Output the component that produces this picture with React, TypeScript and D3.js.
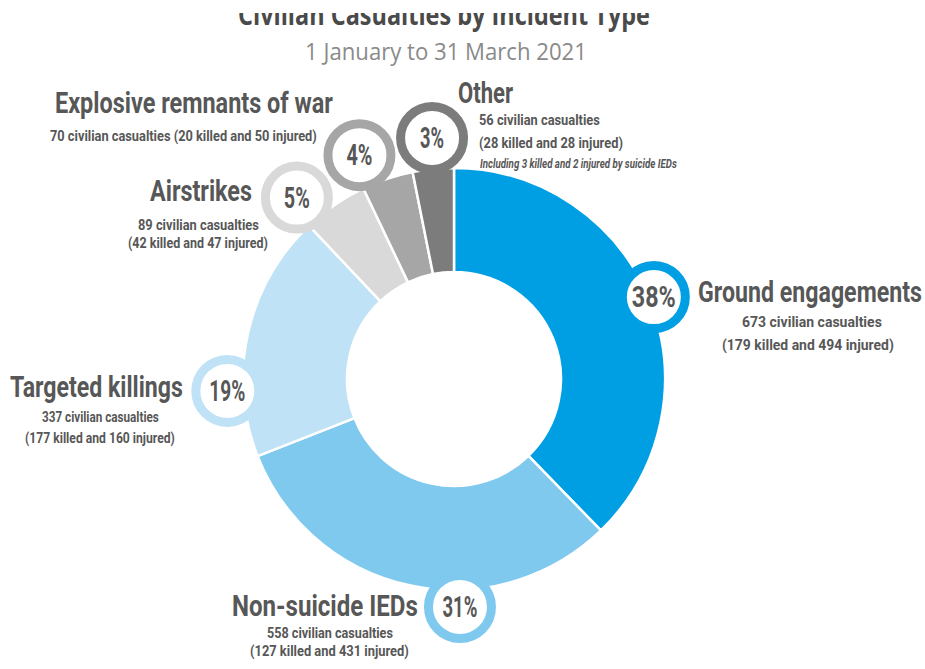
import React, { useLayoutEffect, useRef, useState } from "react";
import * as d3 from "d3";

// ---- data ----
const titleText = "Civilian Casualties by Incident Type";
const subtitleText = "1 January to 31 March 2021";
const categories = [
  "Ground engagements",
  "Non-suicide IEDs",
  "Targeted killings",
  "Airstrikes",
  "Explosive remnants of war",
  "Other",
];
const casualties = [673, 558, 337, 89, 70, 56];
const killed = [179, 127, 177, 42, 20, 28];
const injured = [494, 431, 160, 47, 50, 28];
const notes = ["", "", "", "", "", "Including 3 killed and 2 injured by suicide IEDs"];

// ---- styles / layout ----
const colors = ["#009fe3", "#7fc9ee", "#bfe2f6", "#d9d9d9", "#a6a6a6", "#7c7c7c"];
const W = 925;
const H = 669;
const CX = 454;
const CY = 379;
const R_OUT = 211;
const R_IN = 107;
const TEXT = "#575757";

// badge placement: angle (deg clockwise from top), distance from centre
const badgeLayout = [
  { angle: 67.7, dist: 216, w: 44 },
  { angle: 178.5, dist: 228, w: 35 },
  { angle: 267, dist: 227, w: 36 },
  { angle: 319.1, dist: 240, w: 26 },
  { angle: 337.1, dist: 243, w: 26 },
  { angle: 354.8, dist: 242, w: 24 },
];

// label placement: header + lines (x = left, y = baseline, w = width)
const labelLayout = [
  { head: { x: 698, y: 302, w: 224 }, lines: [{ x: 742, y: 327, w: 140 }, { x: 722, y: 350, w: 172 }], join: false },
  { head: { x: 232, y: 616, w: 186 }, lines: [{ x: 267, y: 638, w: 126 }, { x: 250, y: 656, w: 159 }], join: false },
  { head: { x: 10, y: 397, w: 173 }, lines: [{ x: 42, y: 422, w: 117 }, { x: 25, y: 443, w: 150 }], join: false },
  { head: { x: 150, y: 201, w: 102 }, lines: [{ x: 138, y: 229.5, w: 121 }, { x: 128, y: 248, w: 140 }], join: false },
  { head: { x: 55, y: 113, w: 278 }, lines: [{ x: 50, y: 141, w: 267 }], join: true },
  { head: { x: 458, y: 103, w: 55 }, lines: [{ x: 479, y: 125, w: 121 }, { x: 479, y: 148, w: 144 }], join: false },
];
const noteLayout = { x: 480, y: 168, w: 197 };

const FONT = "Roboto, 'DejaVu Sans', sans-serif";

type FitProps = {
  x: number;
  y: number;
  w: number;
  anchor?: "start" | "middle";
  children: string;
  [k: string]: any;
};

// text squeezed horizontally to a given width (condensed look)
function FitText({ x, y, w, anchor = "start", children, ...rest }: FitProps) {
  const ref = useRef<SVGTextElement>(null);
  const [sx, setSx] = useState(1);
  useLayoutEffect(() => {
    if (ref.current) {
      const len = ref.current.getComputedTextLength();
      if (len > 0) setSx(w / len);
    }
  }, [w, children]);
  return (
    <text
      ref={ref}
      transform={`translate(${x},${y}) scale(${sx},1)`}
      x={0}
      y={0}
      textAnchor={anchor}
      {...rest}
    >
      {children}
    </text>
  );
}

export default function App() {
  const total = d3.sum(casualties);
  const pie = d3
    .pie<number>()
    .sort(null)
    .value((d) => d)
    .startAngle(0)
    .endAngle(2 * Math.PI);
  const arcs = pie(casualties);
  const arc = d3.arc<d3.PieArcDatum<number>>().innerRadius(R_IN).outerRadius(R_OUT);
  const pct = d3.format(".0%");

  return (
    <svg
      width={W}
      height={H}
      viewBox={`0 0 ${W} ${H}`}
      style={{ position: "absolute", left: 0, top: 0, background: "#fff" }}
    >
      <defs>
        <clipPath id="titleClip" clipPathUnits="userSpaceOnUse">
          <rect x={0} y={13} width={W} height={40} />
        </clipPath>
      </defs>
      <rect x={0} y={0} width={W} height={H} fill="#fff" />

      <g clipPath="url(#titleClip)">
        <FitText
          x={444}
          y={25}
          w={412}
          anchor="middle"
          fontFamily="'Open Sans', sans-serif"
          fontWeight={700}
          fontSize={28}
          fill="#4a4a4a"
        >
          {titleText}
        </FitText>
      </g>
      <FitText
        x={446}
        y={60}
        w={282}
        anchor="middle"
        fontFamily="'Open Sans', sans-serif"
        fontSize={23}
        fill="#8a8a8a"
      >
        {subtitleText}
      </FitText>

      <g transform={`translate(${CX},${CY})`}>
        {arcs.map((a, i) => (
          <path key={i} d={arc(a) || ""} fill={colors[i]} stroke="#fff" strokeWidth={2.5} strokeLinejoin="round" />
        ))}
      </g>

      {arcs.map((a, i) => {
        const b = badgeLayout[i];
        const t = (b.angle * Math.PI) / 180;
        const bx = CX + b.dist * Math.sin(t);
        const by = CY - b.dist * Math.cos(t);
        return (
          <g key={"b" + i}>
            <circle cx={bx} cy={by} r={31.5} fill="#fff" stroke={colors[i]} strokeWidth={9} />
            <FitText
              x={bx}
              y={by + 10}
              w={b.w}
              anchor="middle"
              fontFamily={FONT}
              fontWeight={700}
              fontSize={29}
              fill={TEXT}
            >
              {pct(casualties[i] / total)}
            </FitText>
          </g>
        );
      })}

      {categories.map((c, i) => {
        const L = labelLayout[i];
        const l1 = `${casualties[i]} civilian casualties`;
        const l2 = `(${killed[i]} killed and ${injured[i]} injured)`;
        const texts = L.join ? [`${l1} ${l2}`] : [l1, l2];
        return (
          <g key={"l" + i}>
            <FitText
              x={L.head.x}
              y={L.head.y}
              w={L.head.w}
              fontFamily={FONT}
              fontWeight={700}
              fontSize={30}
              fill={TEXT}
            >
              {c}
            </FitText>
            {texts.map((s, j) => (
              <FitText
                key={j}
                x={L.lines[j].x}
                y={L.lines[j].y}
                w={L.lines[j].w}
                fontFamily={FONT}
                fontWeight={700}
                fontSize={15}
                fill={TEXT}
              >
                {s}
              </FitText>
            ))}
            {notes[i] ? (
              <FitText
                x={noteLayout.x}
                y={noteLayout.y}
                w={noteLayout.w}
                fontFamily={FONT}
                fontWeight={700}
                fontStyle="italic"
                fontSize={12}
                fill={TEXT}
              >
                {notes[i]}
              </FitText>
            ) : null}
          </g>
        );
      })}
    </svg>
  );
}
